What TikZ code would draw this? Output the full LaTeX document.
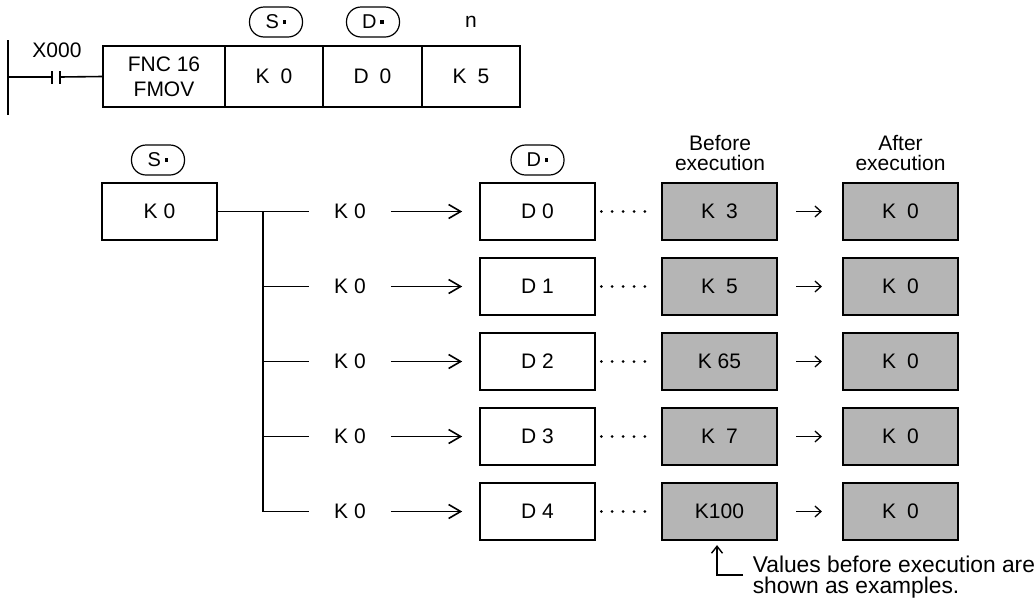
\documentclass[tikz,border=0pt]{standalone}
\usepackage{fontspec}
\setmainfont{Liberation Sans}
\usetikzlibrary{arrows.meta}
\definecolor{boxgrey}{RGB}{181,181,181}
\newcommand{\opdot}{\hspace{4pt}\rule[5pt]{3.5pt}{3.5pt}}
\newcommand{\wgap}{\hspace{11pt}}
\begin{document}
\begin{tikzpicture}[x=1pt,y=-1pt,
  font=\fontsize{21}{22}\selectfont,
  line width=1.6pt,
  cell/.style={draw, minimum height=61pt, inner sep=0pt},
  wbox/.style={draw, minimum width=115pt, minimum height=57pt, inner sep=0pt},
  gbox/.style={wbox, fill=boxgrey, line width=2.2pt},
  opnd/.style={draw, line width=1.2pt, rounded corners=14.5pt, minimum width=53pt, minimum height=30pt, inner sep=0pt, font=\fontsize{20}{22}\selectfont},
  lbl/.style={minimum width=80pt, inner sep=0pt},
  barb/.style={-{Straight Barb[length=12pt,width=14pt]}},
  small/.style={-{Straight Barb[length=6pt,width=11pt]}, line width=1.3pt},
  dots/.style={line cap=round, line width=3pt, dash pattern=on 0pt off 10.9pt}
]
\useasboundingbox (0,0) rectangle (1036,598);

% ---------- ladder rung ----------
\coordinate (railtop) at (8,40);
\coordinate (railbot) at (8,115);
\coordinate (rung) at (8,77);
\coordinate (c1) at (52,77);
\coordinate (c2) at (60,77);
\draw (railtop) -- (railbot);
\draw (rung) -- (c1);
\draw ([yshift=-6.5pt]c1) -- ([yshift=6.5pt]c1);
\draw ([yshift=-6.5pt]c2) -- ([yshift=6.5pt]c2);
\node (x000) at (57,50) {X000};

\node[cell, minimum width=122pt, align=center, font=\fontsize{21}{25}\selectfont] (fnc) at (164,76.5) {FNC 16\\FMOV};
\node[cell, minimum width=98pt] (ks) at (274,76.5) {K\wgap 0};
\node[cell, minimum width=99pt] (ds) at (372.5,76.5) {D\wgap 0};
\node[cell, minimum width=98pt] (kn) at (471,76.5) {K\wgap 5};
\draw (c2) -- (fnc.west);

\node[opnd] (sop) at (276,22) {S\opdot};
\node[opnd] (dop) at (373,22) {D\opdot};
\node (nop) at (471,22) {n};

% ---------- data flow ----------
\node[opnd] (sop2) at (158,160) {S\opdot};
\node[opnd] (dop2) at (537.5,160) {D\opdot};
\node[wbox] (src) at (159.5,211.5) {K 0};

\node[align=center, font=\fontsize{21}{20}\selectfont] (before) at (720,153) {Before\\execution};
\node[align=center, font=\fontsize{21}{20}\selectfont] (after) at (900.5,153) {After\\execution};

\coordinate (J) at (263,211.5);
\coordinate (Jend) at (263,511.5);
\draw (J) -- (Jend);

\foreach \i/\y/\v in {0/211.5/K\wgap 3, 1/286.5/K\wgap 5, 2/361.5/K 65, 3/436.5/K\wgap 7, 4/511.5/K100}{
  \node[lbl] (lab\i) at (350,\y) {K 0};
  \node[wbox] (d\i) at (537.5,\y) {D \i};
  \node[gbox] (g\i) at (719.5,\y) {\v};
  \node[gbox] (a\i) at (900.5,\y) {K\wgap 0};
  \draw[barb, shorten >=17pt] (lab\i.east) -- (d\i.west);
  \draw[dots, shorten <=5.5pt, shorten >=5.5pt] (d\i.east) -- (g\i.west);
  \draw[small, shorten <=18pt, shorten >=20pt] (g\i.east) -- (a\i.west);
}
\draw (src.east) -- (lab0.west);
\foreach \i in {1,2,3,4}{
  \draw (J |- lab\i) -- (lab\i.west);
}

% ---------- note ----------
\node[anchor=base west, align=left, inner sep=0pt, font=\fontsize{22.8}{20.5}\selectfont] (note) at (752,593) {Values before execution are\\shown as examples.};
\coordinate (nt) at (743,575);
\draw[-{Straight Barb[length=7pt,width=11pt]}, line width=1.4pt, shorten >=4pt] (nt) -| ([xshift=-2.5pt]g4.south);
\end{tikzpicture}
\end{document}
